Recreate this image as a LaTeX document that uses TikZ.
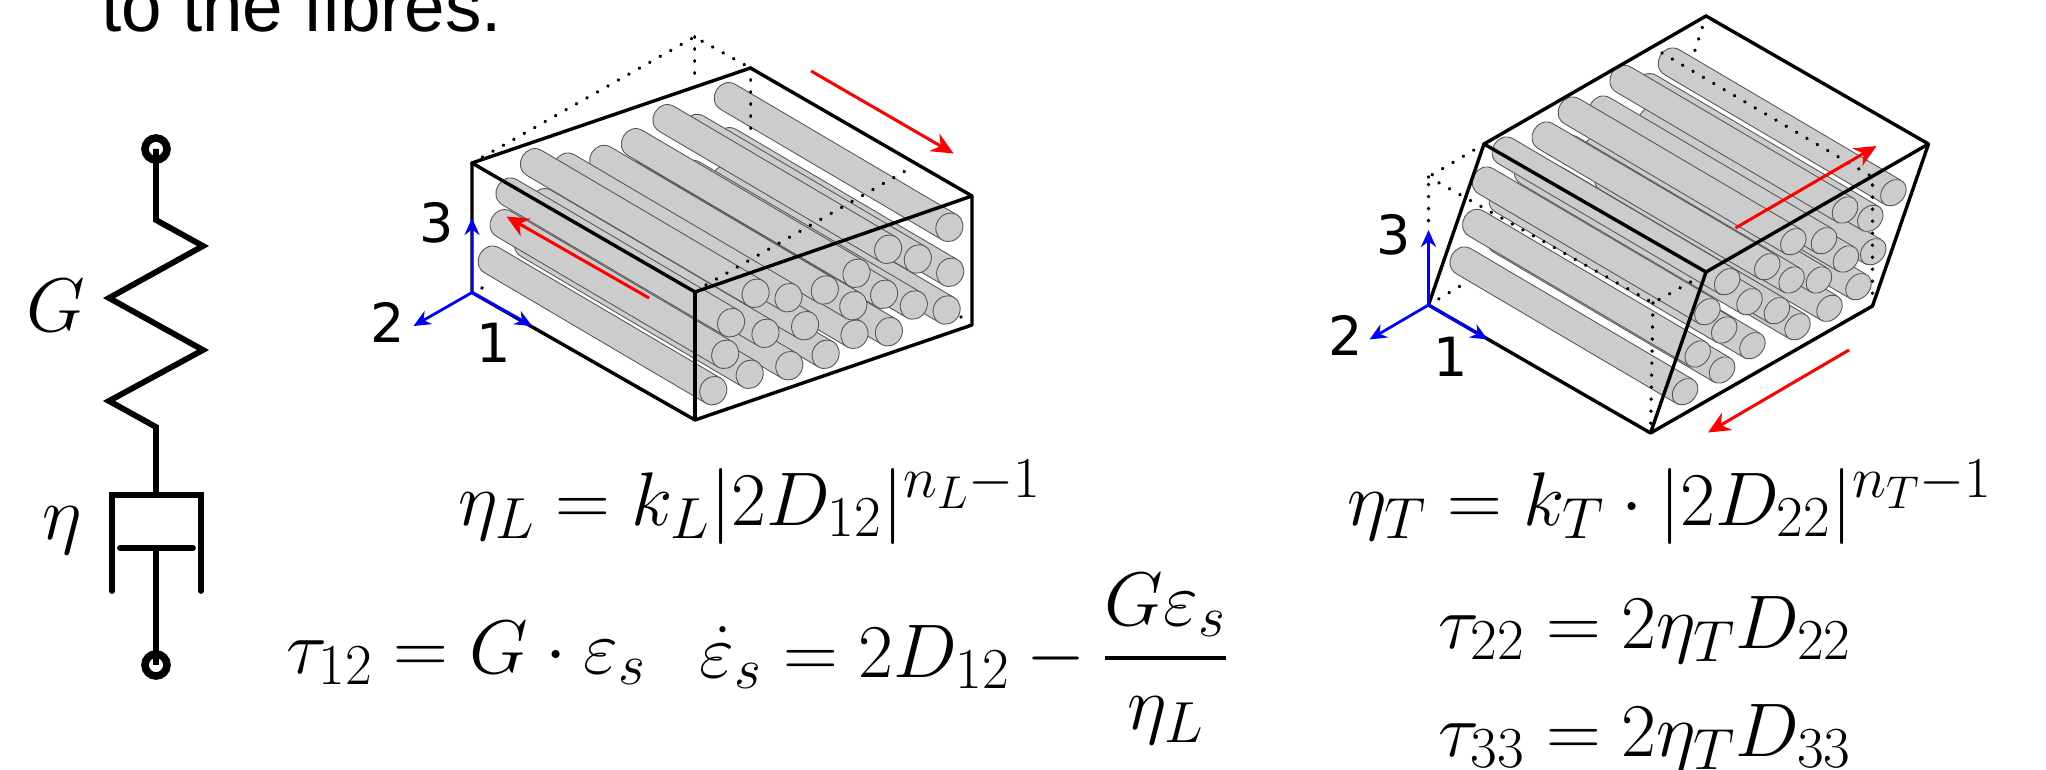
\documentclass[tikz,border=0pt]{standalone}
\usepackage{fix-cm}
\usepackage{amsmath}
\usepackage{fontspec}
\newfontfamily\slidefont{Liberation Sans}
\newfontfamily\axisfont{DejaVu Sans}
\usetikzlibrary{arrows.meta}
\DeclareMathSizes{38}{38}{29}{23}

% fibre with its end face at (#1,#2), #3 = small radius of the face, #4 = tilt of the face
\newcommand{\drawfibre}[4]{%
	\begin{scope}[shift={(#1,#2)}, rotate=-30.5]
		\draw[fibre] (0,14.5) -- (-256.5,14.5) .. controls (-275,14.5) and (-275,-14.5) .. (-256.5,-14.5) -- (0,-14.5) -- cycle;
		\draw[fibre, rotate=#4] (0,0) ellipse [x radius=#3, y radius=7.3pt];
	\end{scope}}

\begin{document}
\begin{tikzpicture}[x=0.5pt, y=-0.5pt,
		fibre/.style={draw=black!65, fill=black!20, line width=0.45pt},
		edge/.style={draw=black, line width=1.7pt, line join=round},
		hidden/.style={draw=black, line width=1.9pt, line cap=round, dash pattern=on 0.01pt off 6pt},
		shear/.style={-{Stealth[length=11pt, width=10pt]}, red, line width=1.5pt},
		axis/.style={-{Stealth[length=8.5pt, width=7.5pt]}, blue, line width=1.4pt},
		digit/.style={font=\axisfont\fontsize{27}{27}\selectfont, inner sep=0pt},
		formula/.style={font=\fontsize{38}{40}\selectfont, inner sep=0pt, anchor=base},
		element/.style={line width=2.9pt, line join=miter},
		terminal/.style={draw, circle, line width=3.8pt, minimum size=11pt, inner sep=0pt}]
		\useasboundingbox (0,0) rectangle (2046,770);
		% Text above the picture
		\node[font=\slidefont\fontsize{36.4}{36.4}\selectfont, anchor=base west, inner sep=0pt] (caption) at (101,32) {to the fibres.};

		% Spring and dashpot
		\node[terminal] (top) at (156,149) {};
		\node[terminal] (bottom) at (156,665) {};
		\draw[element] (top.center) -- (156,220) -- (203,246) -- (109,298) -- (203,350) -- (109,401) -- (156,427) -- (156,495);
		\draw[element, line cap=round] (112,591) -- (112,495) -- (201,495) -- (201,591);
		\draw[element, line cap=round] (120,548) -- (193,548);
		\draw[element] (156,548) -- (bottom.center);
		\node[font=\fontsize{38}{38}\selectfont, inner sep=0pt] (labelG) at (56,306) {$G$};
		\node[font=\fontsize{38}{38}\selectfont, inner sep=0pt] (labelEta) at (62,531) {$\eta$};

		% Cube under shear along the fibres
		\coordinate (aL) at (472,163); \coordinate (aB) at (750.5,68); \coordinate (aR) at (972,196);
		\coordinate (aF) at (695,292); \coordinate (aD) at (695,420); \coordinate (aE) at (972,325);
		\coordinate (aO) at (472,292.5); \coordinate (aApex) at (694.5,37);
		\foreach \x/\y in {946.6/310, 913.8/305, 888.9/331.7, 950.2/272.3, 854.5/334.3, 825.6/354.3, 884.1/294.3, 789.3/365.7, 917.8/259, 853.3/305.7, 949.4/227.3, 749.7/374.3, 805.1/325.7, 713.3/390.7, 888.1/249.3, 856.5/273.3, 824.8/290, 765.5/333.3, 725.2/354.3, 788.5/297.7, 731.1/322.7, 755.6/293.3}
			\drawfibre{\x}{\y}{6.6pt}{0};
		\draw[hidden] (aL) -- (aApex) -- (aB);
		\draw[hidden] (aApex) -- (694.5,85);
		\draw[hidden] (aB) -- (750.5,140);
		\draw[hidden] (706,285) -- (914,166);
		\draw[hidden] (482,288) -- (492,285);
		\draw[hidden] (961,317) -- (969,322);
		\draw[edge] (aL) -- (aB) -- (aR) -- (aF) -- cycle;
		\draw[edge] (aR) -- (aE) -- (aD) -- (aO) -- (aL);
		\draw[edge] (aF) -- (aD);
		\draw[shear] (649,298) -- (506.5,216.5);
		\draw[shear] (811,71) -- (953.5,153.5);
		\draw[axis] (aO) -- (472,218);
		\draw[axis] (aO) -- (413.5,326);
		\draw[axis] (aO) -- (532,326);
		\node[digit] (aThree) at (437,223) {3};
		\node[digit] (aTwo) at (388,322) {2};
		\node[digit] (aOne) at (493.5,343) {1};

		% Cube under shear across the fibres
		\coordinate (bL) at (1484,144); \coordinate (bB) at (1706,16); \coordinate (bR) at (1928.5,144);
		\coordinate (bF) at (1706,272); \coordinate (bD) at (1650.5,433); \coordinate (bE) at (1872.5,306);
		\coordinate (bO) at (1428.5,305); \coordinate (bApex) at (1428.5,177); \coordinate (bFront) at (1653,303);
		\coordinate (bBack) at (1662,53); \coordinate (bSide) at (1872.5,177);
		\foreach \x/\y in {1858.5/286.7, 1829.5/308.3, 1873.2/251.7, 1797.5/326.7, 1845.9/259, 1818.9/280, 1752.4/345.7, 1722.1/370, 1870.3/218.3, 1776.9/310.7, 1893.4/192.7, 1685.1/391.7, 1791.6/280, 1824/240.7, 1845/210, 1724.2/330, 1697.7/354, 1749.5/301.7, 1793.3/241.7, 1767.2/266.7, 1707.4/311.7, 1727.2/281.7}
			\drawfibre{\x}{\y}{5.6pt}{-11};
		\draw[hidden] (bL) -- (bApex) -- (1428.5,228);
		\draw[hidden] (bApex) -- (bFront) -- (1696,279);
		\draw[hidden] (bFront) -- (bD);
		\draw[hidden] (bB) -- (1693.5,55);
		\draw[hidden] (bBack) -- (bSide) -- (bE);
		\draw[hidden] (bO) -- (1462,285);
		\draw[edge] (bL) -- (bB) -- (bR) -- (bF) -- cycle;
		\draw[edge] (bR) -- (bE) -- (bD) -- (bO) -- (bL);
		\draw[edge] (bF) -- (bD);
		\draw[shear] (1735.5,228) -- (1876.5,146);
		\draw[shear] (1849,350) -- (1708,432.5);
		\draw[axis] (bO) -- (1428.5,230);
		\draw[axis] (bO) -- (1369.5,339.5);
		\draw[axis] (bO) -- (1487.5,339.5);
		\node[digit] (bThree) at (1393.5,235) {3};
		\node[digit] (bTwo) at (1345.5,335) {2};
		\node[digit] (bOne) at (1450.5,357) {1};

		% Formulas
		\node[formula] (etaL) at (750,525) {$\eta_L = k_L|2D_{12}|^{n_L-1}$};
		\node[formula] (tauS) at (466,673) {$\tau_{12} = G\cdot\varepsilon_s$};
		\node[formula] (rateS) at (964,677) {$\dot{\varepsilon}_s = 2D_{12} - \genfrac{}{}{2pt}{0}{G\varepsilon_s}{\eta_L}$};
		\node[formula] (etaT) at (1670,525) {$\eta_T = k_T\cdot|2D_{22}|^{n_T-1}$};
		\node[formula] (tauTT) at (1645,648) {$\tau_{22} = 2\eta_T D_{22}$};
		\node[formula] (tauZZ) at (1645,756) {$\tau_{33} = 2\eta_T D_{33}$};
	\end{tikzpicture}
\end{document}
